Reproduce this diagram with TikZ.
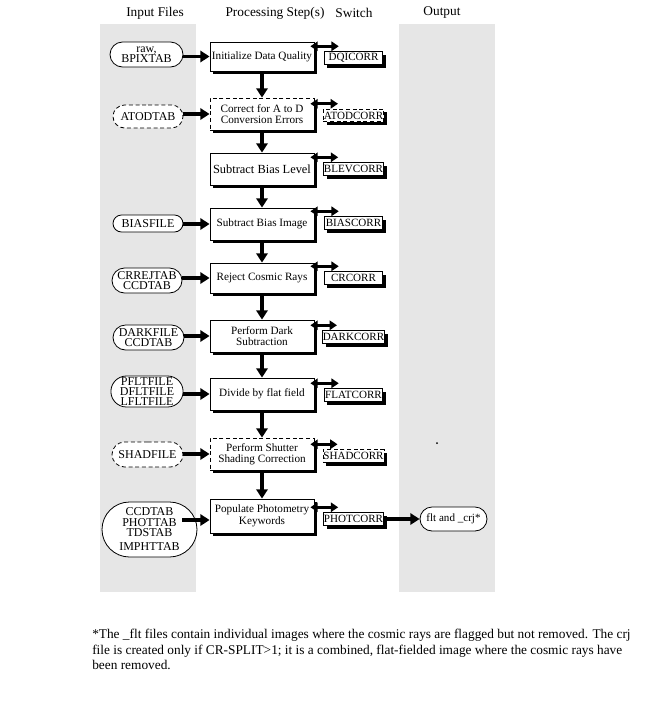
\documentclass[tikz,border=0pt]{standalone}
\usepackage{fontspec}
\setmainfont{Liberation Serif}
\usetikzlibrary{shadows,shapes.misc,arrows.meta,calc}
\definecolor{colgray}{RGB}{230,230,230}
\begin{document}
\begin{tikzpicture}[x=0.75pt,y=-0.75pt,
  shad/.style={drop shadow={shadow xshift=2.4pt,shadow yshift=-2.4pt,fill=black,opacity=1}},
  proc/.style={draw, line width=0.6pt, fill=white, minimum width=78pt, inner sep=1pt, align=center,
    font=\fontsize{8.4}{8.6}\selectfont, shad},
  swbox/.style={draw, line width=0.6pt, fill=white, minimum width=44pt, minimum height=9.5pt, inner sep=0.3pt,
    font=\fontsize{8.3}{8.4}\selectfont, shad},
  inp/.style={rounded rectangle, draw, line width=0.6pt, fill=white, inner sep=0pt, align=center,
    font=\fontsize{9}{7.6}\selectfont},
  dsh/.style={dash pattern=on 3pt off 2pt},
  hdr/.style={font=\fontsize{10}{12}\selectfont},
  bigarr/.style={line width=2.4pt, -{Triangle[length=7pt,width=8.5pt]}},
  swarr/.style={line width=2pt, {Triangle[length=5.5pt,width=7pt]}-{Triangle[length=5.5pt,width=7pt]}}
]
\useasboundingbox (0,0) rectangle (645,704);
% columns
\fill[colgray] (100,24) rectangle (196,592);
\fill[colgray] (399,24) rectangle (495,592);
% headers
\node[hdr] (h1) at (155,13) {Input Files};
\node[hdr] (h2) at (275,13) {Processing Step(s)};
\node[hdr] (h3) at (354,13) {Switch};
\node[hdr] (h4) at (442,13) {Output};
% processing boxes
\node[proc, minimum height=21.75pt] (b1) at (262,56.5) {Initialize Data Quality};
\node[proc, dsh, minimum height=24pt] (b2) at (262,114) {Correct for A to D\\Conversion Errors};
\node[proc, minimum height=24pt, font=\fontsize{9.3}{9.4}\selectfont] (b3) at (262,169) {Subtract Bias Level};
\node[proc, minimum height=24pt] (b4) at (262,224) {Subtract Bias Image};
\node[proc, minimum height=22.5pt] (b5) at (262,278) {Reject Cosmic Rays};
\node[proc, minimum height=24pt] (b6) at (262,336) {Perform Dark\\Subtraction};
\node[proc, minimum height=24pt] (b7) at (262,394) {Divide by flat field};
\node[proc, dsh, minimum height=24pt] (b8) at (262,454) {Perform Shutter\\Shading Correction};
\node[proc, minimum height=25.5pt] (b9) at (262,516) {Populate Photometry\\Keywords};
% switch boxes
\node[swbox] (s1) at (353.5,58) {DQICORR};
\node[swbox, dsh] (s2) at (353.5,115.5) {ATODCORR};
\node[swbox] (s3) at (353.5,169) {BLEVCORR};
\node[swbox] (s4) at (353.5,223) {BIASCORR};
\node[swbox] (s5) at (353.5,278) {CRCORR};
\node[swbox] (s6) at (353.5,337) {DARKCORR};
\node[swbox] (s7) at (353.5,395) {FLATCORR};
\node[swbox, dsh] (s8) at (353.5,456) {SHADCORR};
\node[swbox] (s9) at (353.5,519) {PHOTCORR};
% input ovals
\node[inp, minimum width=54.75pt, minimum height=18.75pt] (i1) at (146.5,54.5) {raw,\\BPIXTAB};
\node[inp, dsh, minimum width=52.5pt, minimum height=17.25pt] (i2) at (148,116.5) {ATODTAB};
\node[inp, minimum width=52.5pt, minimum height=12.75pt] (i3) at (148,223.5) {BIASFILE};
\node[inp, minimum width=52.5pt, minimum height=18.75pt] (i4) at (147,280.5) {CRREJTAB\\CCDTAB};
\node[inp, minimum width=53.25pt, minimum height=18.75pt] (i5) at (148.5,337.5) {DARKFILE\\CCDTAB};
\node[inp, minimum width=52.5pt, minimum height=23.25pt] (i6) at (147,391.5) {PFLTFILE\\DFLTFILE\\LFLTFILE};
\node[inp, dsh, minimum width=53.25pt, minimum height=18.75pt] (i7) at (147.5,454.5) {SHADFILE};
\node[inp, minimum width=71.25pt, minimum height=41.25pt] (i8) at (149.5,529.5) {CCDTAB\\PHOTTAB\\TDSTAB\\[3.5pt]IMPHTTAB};
% output oval
\node[inp, minimum width=50.25pt, minimum height=18pt, font=\fontsize{8.3}{8.4}\selectfont] (o1) at (453.5,519) {flt and \_crj*};
% input arrows
\draw[bigarr] (i1.east |- b1) -- (b1.west);
\draw[bigarr] (i2.east |- b2) -- (b2.west);
\draw[bigarr] (i3.east |- b4) -- (b4.west);
\draw[bigarr] (i4.east |- b5) -- (b5.west);
\draw[bigarr] (i5.east |- b6) -- (b6.west);
\draw[bigarr] (i6.east |- b7) -- (b7.west);
\draw[bigarr] (i7.east |- b8) -- (b8.west);
\coordinate (i8r) at (182,520);
\draw[bigarr] (i8r) -- (b9.west |- i8r);
% flow arrows
\draw[bigarr] (b1.south) -- (b2.north);
\draw[bigarr] (b2.south) -- (b3.north);
\draw[bigarr] (b3.south) -- (b4.north);
\draw[bigarr] (b4.south) -- (b5.north);
\draw[bigarr] (b5.south) -- (b6.north);
\draw[bigarr] (b6.south) -- (b7.north);
\draw[bigarr] (b7.south) -- (b8.north);
\draw[bigarr] (b8.south) -- (b9.north);
% switch arrows
\foreach \k in {1,...,9}{
  \draw[swarr] ($(b\k.east |- s\k.north)+(-4,-5)$) -- ($(s\k.north west)+(15,-5)$);
}
% output arrow
\draw[bigarr] (s9.east) -- (o1.west);
% stray dot
\fill (437,443) circle (1);
% footnote
\node[anchor=north west, align=left, inner sep=0pt, font=\fontsize{10}{11.6}\selectfont] (fn) at (92,629)
{*The \_flt files contain individual images where the cosmic rays are flagged but not removed. The crj\\
file is created only if CR-SPLIT>1; it is a combined, flat-fielded image where the cosmic rays have\\
been removed.};
\end{tikzpicture}
\end{document}
